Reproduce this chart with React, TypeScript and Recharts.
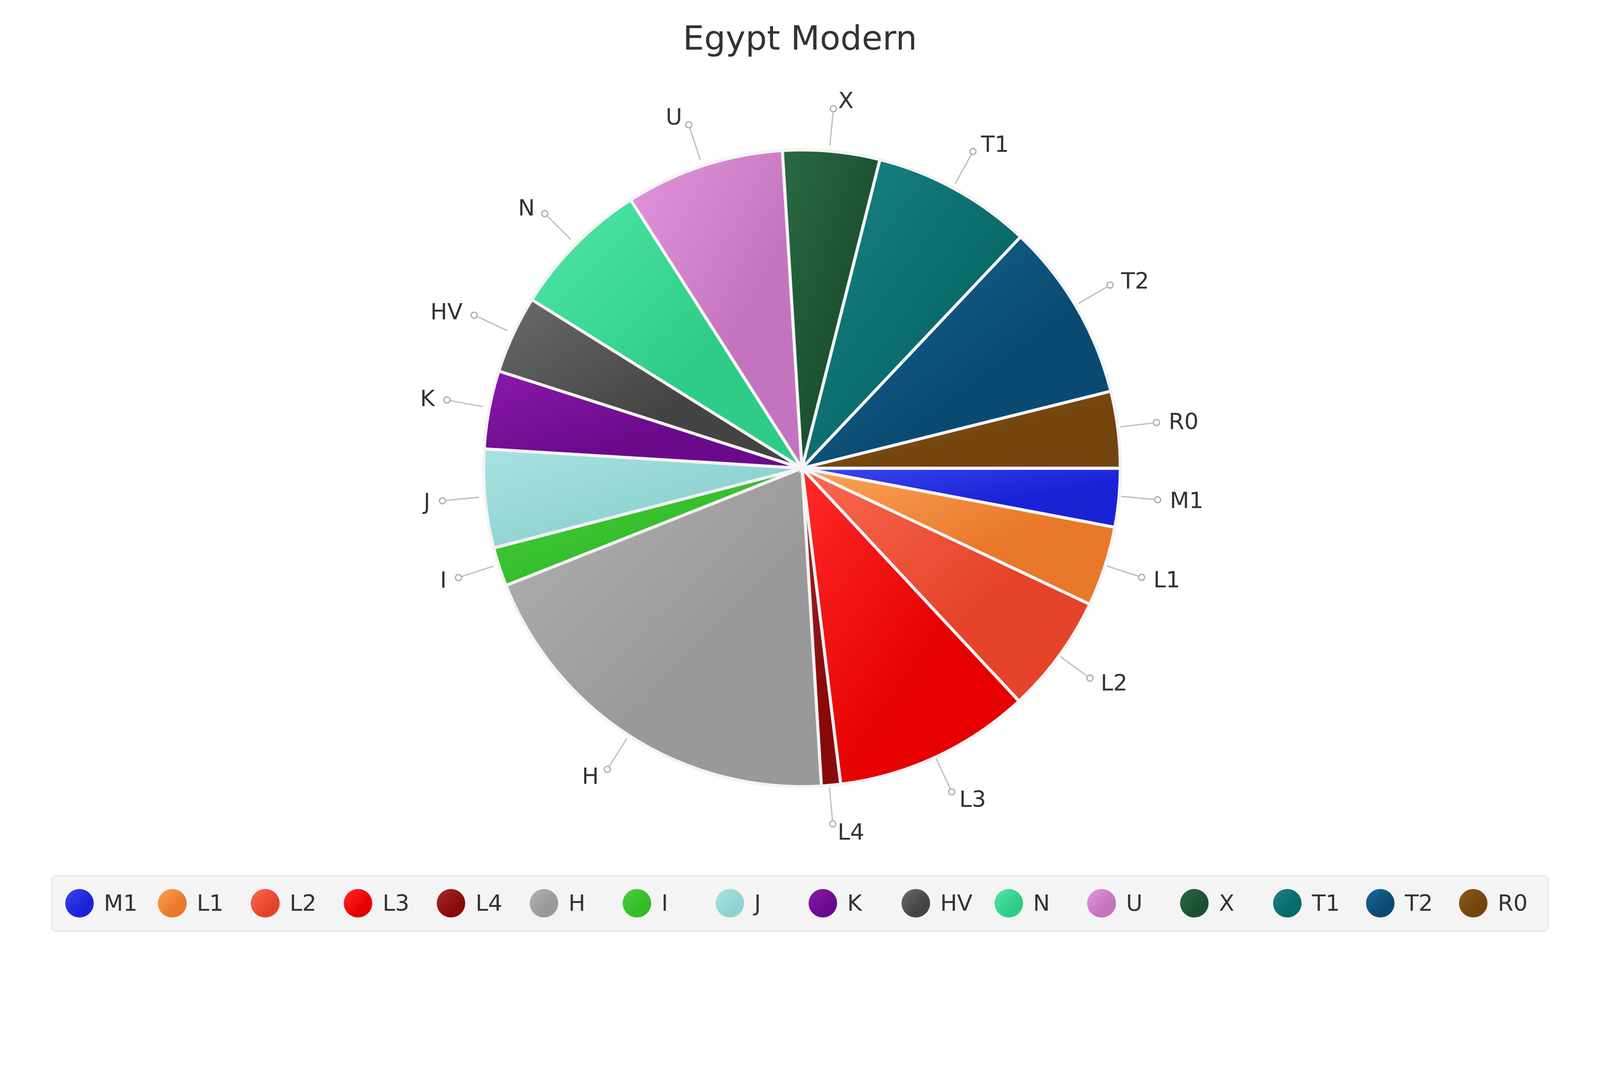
import React from 'react';
import { PieChart, Pie, Cell } from 'recharts';

const names = ['M1','L1','L2','L3','L4','H','I','J','K','HV','N','U','X','T1','T2','R0'];
const values = [2.97,4.06,6.03,10.0,0.97,19.97,1.97,5.0,3.97,3.94,7.08,8.06,4.92,8.11,9.06,3.89];
const colors = ['#1a22d6','#e8782a','#e5442a','#e60000','#880a0a','#999999','#33bb2a','#8fd3d0','#6a0a8a','#444444','#2ecc88','#c474be','#1a5030','#0a6a6a','#0a4a72','#74440f'];
const lights = ['#3a48f0','#fca458','#fa6a52','#ff2a2a','#a82a2a','#b2b2b2','#4ad040','#a8e2e0','#8a1aaa','#6a6a6a','#50e8a8','#e296dc','#2a6a44','#1a8484','#1a6a94','#8a5a1a'];

const data = names.map((n, i) => ({ name: n, value: values[i] }));
const S = 4096 / 1568;
const W = 1568 * S, H = 925 * S;
const CX = 784 * S, CY = 457 * S, R = 312 * S;
const FONT = 'DejaVu Sans, sans-serif';

const renderLabel = (p: any) => {
  const mid = -p.midAngle * Math.PI / 180;
  const cos = Math.cos(mid), sin = Math.sin(mid);
  const r1 = R + 4 * S, r2 = R + 40 * S, r3 = R + 48 * S;
  const x1 = CX + r1 * cos, y1 = CY + r1 * sin;
  const x2 = CX + r2 * cos, y2 = CY + r2 * sin;
  const tx = CX + r3 * cos, ty = CY + r3 * sin;
  const right = cos >= 0;
  return (
    <g key={p.name}>
      <line x1={x1} y1={y1} x2={x2} y2={y2} stroke="#c0c0c0" strokeWidth={1.3 * S} />
      <circle cx={x2} cy={y2} r={3 * S} fill="#fff" stroke="#b0b0b0" strokeWidth={1.3 * S} />
      <text x={tx + (right ? 4 * S : -4 * S)} y={ty} textAnchor={right ? 'start' : 'end'} dominantBaseline="central"
        fontSize={22 * S} fill="#333" fontFamily={FONT}>{p.name}</text>
    </g>
  );
};

export default function App() {
  React.useEffect(() => { document.body.style.margin = '0'; }, []);
  return (
    <div style={{ position: 'relative', width: W, height: H, background: '#fff', fontFamily: FONT }}>
      <PieChart width={W} height={H}>
        <defs>
          {colors.map((c, i) => (
            <linearGradient key={i} id={'g' + i} x1="0" y1="0" x2="1" y2="1">
              <stop offset="0%" stopColor={lights[i]} />
              <stop offset="60%" stopColor={c} />
              <stop offset="100%" stopColor={c} />
            </linearGradient>
          ))}
        </defs>
        <text x={CX} y={37 * S} textAnchor="middle" dominantBaseline="central" fontSize={33 * S} fill="#333" fontFamily={FONT}>Egypt Modern</text>
        <Pie data={data} dataKey="value" nameKey="name" cx={CX} cy={CY} outerRadius={R} innerRadius={0}
          startAngle={0} endAngle={-360} stroke="#f4f4f4" strokeWidth={3 * S} isAnimationActive={false}
          label={renderLabel} labelLine={false}>
          {data.map((d, i) => <Cell key={d.name} fill={`url(#g${i})`} />)}
        </Pie>
      </PieChart>
      <div style={{ position: 'absolute', left: 50 * S, top: 858 * S, width: 1468 * S, height: 55 * S, background: '#f4f4f4',
        border: `${S}px solid #dcdcdc`, borderRadius: 5 * S, boxSizing: 'border-box' }}>
        {names.map((n, i) => (
          <div key={n} style={{ position: 'absolute', left: (77 - 50 - 14 + i * 91.07) * S, top: 0, height: 53 * S, display: 'flex', alignItems: 'center' }}>
            <div style={{ width: 28 * S, height: 28 * S, borderRadius: 14 * S, background: `linear-gradient(135deg, ${lights[i]}, ${colors[i]} 65%)` }} />
            <span style={{ marginLeft: 10 * S, fontSize: 22 * S, color: '#333' }}>{n}</span>
          </div>
        ))}
      </div>
    </div>
  );
}
